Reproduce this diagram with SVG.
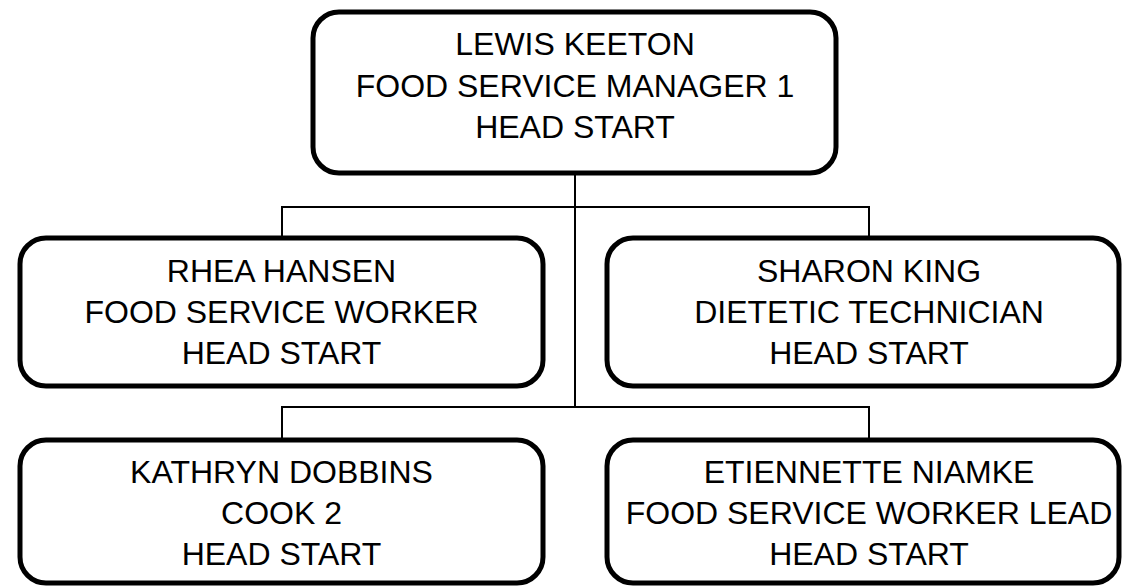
<svg xmlns="http://www.w3.org/2000/svg" width="1123" height="586" viewBox="0 0 1123 586">
<style>
.box{fill:#fff;stroke:#000;stroke-width:5}
.conn line{stroke:#000;stroke-width:2}
text{font-family:"Liberation Sans",Arial,sans-serif;font-size:32px;fill:#000;text-anchor:middle}
</style>
<rect width="1123" height="586" fill="#fff"/>
<g id="connectors" class="conn">
<line x1="575" y1="173" x2="575" y2="407"/>
<line x1="282" y1="207" x2="869" y2="207"/>
<line x1="282" y1="206" x2="282" y2="238"/>
<line x1="869" y1="206" x2="869" y2="238"/>
<line x1="282" y1="407" x2="869" y2="407"/>
<line x1="282" y1="406" x2="282" y2="440"/>
<line x1="869" y1="406" x2="869" y2="440"/>
</g>
<g id="lewis-keeton">
<rect class="box" x="313" y="12" width="523" height="161" rx="26"/>
<text x="575" y="55">LEWIS KEETON</text>
<text x="575" y="97">FOOD SERVICE MANAGER 1</text>
<text x="575" y="138">HEAD START</text>
</g>
<g id="rhea-hansen">
<rect class="box" x="20" y="238" width="523" height="148" rx="26"/>
<text x="281.5" y="282">RHEA HANSEN</text>
<text x="281.5" y="323">FOOD SERVICE WORKER</text>
<text x="281.5" y="364">HEAD START</text>
</g>
<g id="sharon-king">
<rect class="box" x="607" y="238" width="512" height="148" rx="26"/>
<text x="869" y="282">SHARON KING</text>
<text x="869" y="323">DIETETIC TECHNICIAN</text>
<text x="869" y="364">HEAD START</text>
</g>
<g id="kathryn-dobbins">
<rect class="box" x="20" y="440" width="523" height="143" rx="26"/>
<text x="281.5" y="483">KATHRYN DOBBINS</text>
<text x="281.5" y="524">COOK 2</text>
<text x="281.5" y="565">HEAD START</text>
</g>
<g id="etiennette-niamke">
<rect class="box" x="607" y="440" width="512" height="143" rx="26"/>
<text x="869" y="483">ETIENNETTE NIAMKE</text>
<text x="869" y="524">FOOD SERVICE WORKER LEAD</text>
<text x="869" y="565">HEAD START</text>
</g>
</svg>
